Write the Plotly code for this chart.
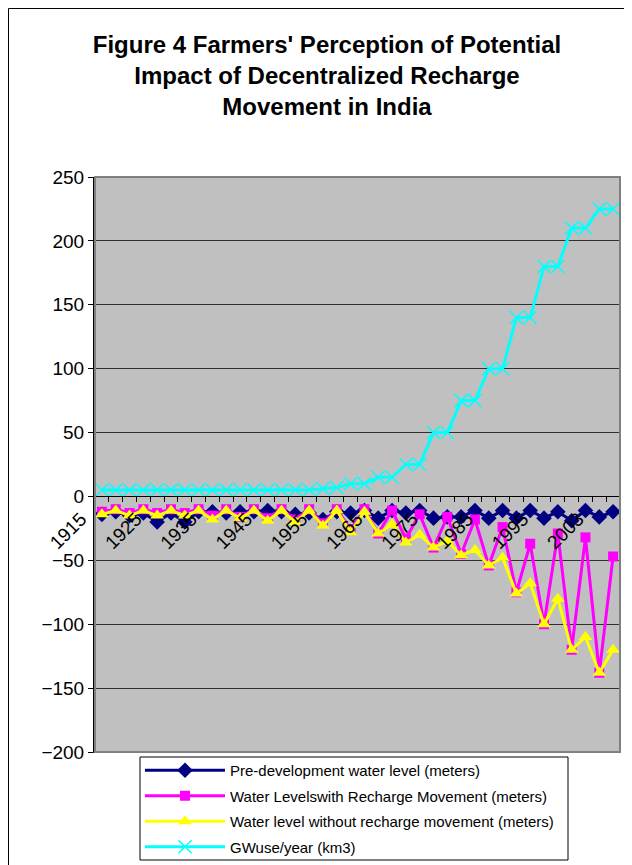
import plotly.graph_objects as go

# ---- data ----
x_labels = ["1915", "", "", "", "1925", "", "", "", "1935", "", "", "",
            "1945", "", "", "", "1955", "", "", "", "1965", "", "", "",
            "1975", "", "", "", "1985", "", "", "", "1995", "", "", "",
            "2003", ""]

pre_dev = [-14, -12, -15, -13, -20, -13, -20, -12, -12, -13, -12, -12, -11,
           -12, -14, -13, -18, -12, -13, -11, -17, -11, -13, -11, -17, -16,
           -16, -11, -17, -11, -17, -11, -17, -12, -19, -11, -16, -12]

with_recharge = [-12, -10, -13, -10, -13, -10, -13, -10, -15, -10, -16, -10,
                 -17, -10, -18, -10, -21, -10, -26, -10, -29, -11, -33, -14,
                 -40, -16, -45, -18, -54, -24, -75, -37, -100, -29, -120, -32,
                 -138, -47]

without_recharge = [-14, -11, -15, -11, -15, -11, -15, -11, -18, -11, -17, -11,
                    -19, -11, -20, -11, -23, -11, -28, -12, -29, -22, -36, -30,
                    -40, -35, -46, -42, -54, -48, -76, -68, -100, -80, -120,
                    -110, -138, -120]

gw_use = [5, 5, 5, 5, 5, 5, 5, 5, 5, 5, 5, 5, 5, 5, 5, 5, 6, 7, 10, 10, 15, 15,
          25, 25, 50, 50, 75, 75, 100, 100, 140, 140, 180, 180, 210, 210, 225, 225]

series_names = ["Pre-development water level (meters)",
                "Water Levelswith Recharge Movement (meters)",
                "Water level without recharge movement (meters)",
                "GWuse/year (km3)"]

y_ticks_top = [50, 100, 150, 200, 250]
y_ticks_bottom = [-200, -150, -100, -50, 0]

title_text = ("<b>Figure 4 Farmers' Perception of Potential<br>"
              "Impact of Decentralized Recharge<br>"
              "Movement in India</b>")

# ---- figure ----
n = len(gw_use)
x = list(range(n))
tickvals = [i for i, t in enumerate(x_labels) if t]
ticktext = [t for t in x_labels if t]

FONT = "Arial, Liberation Sans, sans-serif"
W, H = 624, 857          # page body has an 8px margin
L, R, T, B = 87, 12, 169, 113
PW, PH = W - L - R, H - T - B

fig = go.Figure()

# negative-valued series: lower panel (x / y)
fig.add_trace(go.Scatter(
    x=x, y=pre_dev, name=series_names[0], xaxis="x", yaxis="y",
    mode="lines+markers", cliponaxis=False, legendgroup="a",
    line=dict(color="#000080", width=3),
    marker=dict(symbol="diamond", size=12, color="#000080")))
fig.add_trace(go.Scatter(
    x=x, y=with_recharge, name=series_names[1], xaxis="x", yaxis="y",
    mode="lines+markers", cliponaxis=False, legendgroup="b",
    line=dict(color="#FF00FF", width=3),
    marker=dict(symbol="square", size=10, color="#FF00FF")))
fig.add_trace(go.Scatter(
    x=x, y=without_recharge, name=series_names[2], xaxis="x", yaxis="y",
    mode="lines+markers", cliponaxis=False, legendgroup="c",
    line=dict(color="#FFFF00", width=3),
    marker=dict(symbol="triangle-up", size=12, color="#FFFF00")))
# positive-valued series: upper panel (x2 / y2)
fig.add_trace(go.Scatter(
    x=x, y=gw_use, name=series_names[3], xaxis="x2", yaxis="y2",
    mode="lines+markers", cliponaxis=False, legendgroup="d",
    line=dict(color="#00FFFF", width=3),
    marker=dict(symbol="x-thin-open", size=13,
                line=dict(color="#00FFFF", width=1.5))))

split = 200 / 450
fig.update_layout(
    width=W, height=H, autosize=False,
    margin=dict(l=L, r=R, t=T, b=B, pad=0, autoexpand=False),
    paper_bgcolor="white", plot_bgcolor="#C0C0C0",
    font=dict(family=FONT, color="black"),
    title=dict(text=title_text, x=319 / W, xref="container", xanchor="center",
               y=1 - 45 / H, yref="container", yanchor="top",
               font=dict(size=24, family=FONT, color="black")),
    xaxis=dict(domain=[0, 1], anchor="y", range=[-0.5, n - 0.5],
               showticklabels=False, ticks="", showgrid=False, zeroline=False,
               showline=True, linecolor="#303030", linewidth=1),
    xaxis2=dict(domain=[0, 1], anchor="y2", matches="x", range=[-0.5, n - 0.5],
                tickmode="array", tickvals=tickvals, ticktext=ticktext,
                tickangle=-45, ticks="", showgrid=False, zeroline=False,
                showline=True, linecolor="black", linewidth=1,
                tickfont=dict(size=19), ticklabelshift=-21, ticklabelstandoff=3,
                minor=dict(tickmode="linear", tick0=-0.5, dtick=1,
                           ticks="outside", ticklen=5, tickcolor="black",
                           showgrid=False)),
    yaxis=dict(domain=[0, split], anchor="x", range=[-200, 0],
               tickmode="array", tickvals=y_ticks_bottom, ticks="outside",
               ticklen=5, tickcolor="black", showgrid=True,
               gridcolor="#303030", gridwidth=1, zeroline=False,
               showline=True, linecolor="black", linewidth=2,
               tickfont=dict(size=19)),
    yaxis2=dict(domain=[split, 1], anchor="x2", range=[0, 250],
                tickmode="array", tickvals=y_ticks_top, ticks="outside",
                ticklen=5, tickcolor="black", showgrid=True,
                gridcolor="#303030", gridwidth=1, zeroline=False,
                showline=True, linecolor="black", linewidth=2,
                tickfont=dict(size=19)),
    legend=dict(x=(132 - L) / PW, xanchor="left",
                y=(PH - (746 - T)) / PH, yanchor="top",
                bgcolor="rgba(0,0,0,0)", borderwidth=0,
                font=dict(size=15, family=FONT), tracegroupgap=3,
                itemwidth=80, traceorder="grouped"),
    showlegend=True,
)

# plot-area border, legend frame and outer chart border
fig.add_shape(type="rect", xref="paper", yref="paper", x0=0, x1=1, y0=0, y1=1,
              line=dict(color="#808080", width=2), layer="above")
fig.add_shape(type="rect", xref="paper", yref="paper",
              x0=(132 - L) / PW, x1=(560 - L) / PW,
              y0=(PH - (852 - T)) / PH, y1=(PH - (749 - T)) / PH,
              line=dict(color="black", width=1), fillcolor="white", layer="below")
fig.add_shape(type="rect", xref="paper", yref="paper",
              x0=(0.5 - L) / PW, x1=1.2, y0=-0.4, y1=(PH + T - 0.5) / PH,
              line=dict(color="black", width=1), layer="above")

fig.write_html("out.html")
